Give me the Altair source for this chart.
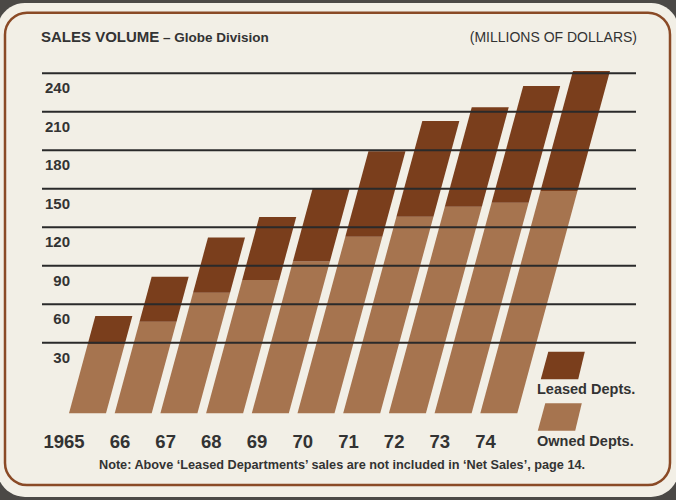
import altair as alt
import pandas as pd

# Globe Division sales volume, millions of dollars
YEARS = ["1965", "66", "67", "68", "69", "70", "71", "72", "73", "74"]
OWNED = [29.0, 46.4, 69.0, 78.9, 93.3, 112.6, 128.2, 136.0, 139.1, 148.2]
LEASED = [21.8, 35.0, 43.0, 49.1, 56.7, 66.7, 74.6, 77.5, 91.0, 93.6]
GRID_VALUES = [30, 60, 90, 120, 150, 180, 210, 240]
SERIES = ["Leased Depts.", "Owned Depts."]

# drawing constants
FLOOR = -25.0        # visual floor the slanted columns stand on
BAR_W = 0.81         # column width in slot units
SLANT = 0.0076       # horizontal lean (slot units per million)
X_DOM = [-69 / 45.7, (676 - 69) / 45.7]
Y_DOM = [-92.6, 297.1]

CREAM = "#f2efe6"
BROWN_LINE = "#8a4a26"
LEASED_C = "#7a3e1c"
OWNED_C = "#a6744f"
INK = "#333333"
FONT = "Liberation Sans"

xs = alt.Scale(domain=X_DOM, nice=False, zero=False)
ys = alt.Scale(domain=Y_DOM, nice=False, zero=False)
cs = alt.Scale(domain=SERIES, range=[LEASED_C, OWNED_C])

# parallelogram columns: two rows (bottom/top edge) per stacked segment
rows = []
for i, (own, lea) in enumerate(zip(OWNED, LEASED)):
    for kind, lo, hi in [("Owned Depts.", FLOOR, own), ("Leased Depts.", own, own + lea)]:
        for v in (lo, hi):
            left = i + SLANT * (v - FLOOR)
            rows.append({"seg": f"{i}-{kind}", "kind": kind, "v": v,
                         "xl": left, "xr": left + BAR_W})
bars_df = pd.DataFrame(rows)

one = pd.DataFrame({"k": [0]})

card = alt.Chart(one).mark_rect(fill=CREAM, cornerRadius=28).encode(
    x=alt.value(-3), x2=alt.value(679), y=alt.value(3), y2=alt.value(497))

frame = alt.Chart(one).mark_rect(filled=False, stroke=BROWN_LINE, strokeWidth=2.5,
                                 cornerRadius=22).encode(
    x=alt.value(5), x2=alt.value(670), y=alt.value(12.7), y2=alt.value(485))

bars = alt.Chart(bars_df).mark_area(orient="horizontal", opacity=1).encode(
    y=alt.Y("v:Q", scale=ys, axis=None),
    x=alt.X("xl:Q", scale=xs, axis=None),
    x2="xr:Q",
    detail="seg:N",
    color=alt.Color("kind:N", scale=cs, legend=None),
)

grid_df = pd.DataFrame({"g": GRID_VALUES})
grid = alt.Chart(grid_df).mark_rule(color="#2a2a2a", strokeWidth=2).encode(
    y=alt.Y("g:Q", scale=ys, axis=None), x=alt.value(42), x2=alt.value(636))

grid_labels = alt.Chart(grid_df).mark_text(
    align="right", baseline="middle", dy=15, font=FONT, fontSize=15,
    fontWeight="bold", color=INK).encode(
    y=alt.Y("g:Q", scale=ys, axis=None), x=alt.value(70), text="g:Q")

year_df = pd.DataFrame({"label": YEARS, "pos": [i + 0.34 for i in range(len(YEARS))]})
year_labels = alt.Chart(year_df).mark_text(
    align="right", baseline="middle", font=FONT, fontSize=18.5,
    fontWeight="bold", color=INK).encode(
    x=alt.X("pos:Q", scale=xs, axis=None), y=alt.value(441.5), text="label:N")

# legend swatches drawn as leaning parallelograms
SWATCH = "M -0.66 -0.63 L 1 -0.63 L 0.7 0.63 L -1 0.63 Z"
leg_df = pd.DataFrame({"kind": SERIES, "px": [562.8, 559.8], "py": [365.5, 417.0],
                       "ty": [390.0, 442.0]})
swatches = alt.Chart(leg_df).mark_point(shape=SWATCH, filled=True, size=1936,
                                        opacity=1, strokeWidth=0).encode(
    x=alt.X("px:Q", scale=alt.Scale(domain=[0, 676], nice=False, zero=False), axis=None),
    y=alt.Y("py:Q", scale=alt.Scale(domain=[500, 0], nice=False, zero=False), axis=None),
    color=alt.Color("kind:N", scale=cs, legend=None),
)
swatch_text = alt.Chart(leg_df).mark_text(
    align="left", baseline="middle", font=FONT, fontSize=14.5, fontWeight="bold",
    color=INK).encode(
    x=alt.value(537),
    y=alt.Y("ty:Q", scale=alt.Scale(domain=[500, 0], nice=False, zero=False), axis=None),
    text="kind:N")

title_main = alt.Chart(one).mark_text(
    align="left", baseline="alphabetic", font=FONT, fontSize=15, fontWeight="bold",
    color=INK, text="SALES VOLUME").encode(x=alt.value(41), y=alt.value(42))
title_sub = alt.Chart(one).mark_text(
    align="left", baseline="alphabetic", font=FONT, fontSize=13.5, fontWeight="bold",
    color=INK, text="– Globe Division").encode(x=alt.value(163), y=alt.value(42))
units = alt.Chart(one).mark_text(
    align="right", baseline="alphabetic", font=FONT, fontSize=14,
    color=INK, text="(MILLIONS OF DOLLARS)").encode(x=alt.value(637), y=alt.value(42))
note = alt.Chart(one).mark_text(
    align="center", baseline="middle", font=FONT, fontSize=12.7, fontWeight="bold",
    color=INK,
    text="Note: Above ‘Leased Departments’ sales are not included in ‘Net Sales’, page 14."
).encode(x=alt.value(342), y=alt.value(465))

chart = alt.layer(
    card, frame, bars, grid, grid_labels, year_labels, swatches, swatch_text,
    title_main, title_sub, units, note,
).resolve_scale(x="independent", y="independent").properties(
    width=676, height=500, padding=0, autosize="none", background="#4b4946",
).configure_view(stroke=None)

chart.save("out.html", embed_options={"renderer": "svg", "actions": False})
